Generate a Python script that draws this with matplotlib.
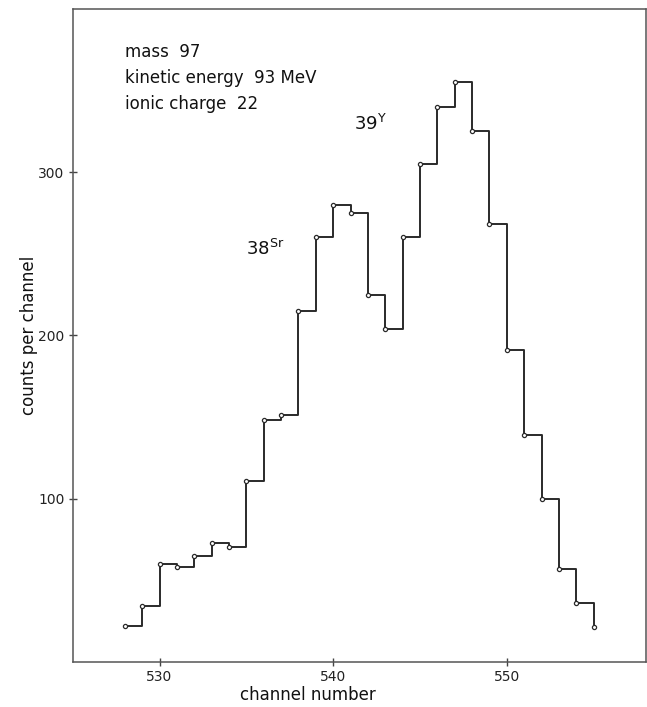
import matplotlib
matplotlib.use("Agg")
import matplotlib.pyplot as plt

# Channel numbers and counts per channel for the mass-97 spectrum
channels = [528, 529, 530, 531, 532, 533, 534, 535, 536, 537, 538, 539, 540, 541,
            542, 543, 544, 545, 546, 547, 548, 549, 550, 551, 552, 553, 554, 555]
counts = [22, 34, 60, 58, 65, 73, 70, 111, 148, 151, 215, 260, 280, 275,
          225, 204, 260, 305, 340, 355, 325, 268, 191, 139, 100, 57, 36, 21]

x_ticks = [530, 540, 550]
y_ticks = [100, 200, 300]

info_lines = ["mass  97", "kinetic energy  93 MeV", "ionic charge  22"]

plt.rcParams['font.family'] = ['DejaVu Sans']
plt.rcParams['mathtext.fontset'] = 'dejavusans'

fig = plt.figure(figsize=(6.47, 7.07), dpi=100)
ax = fig.add_axes([0.1124, 0.0641, 0.8856, 0.9232])

ink = '#2a2a2a'
ax.plot(channels, counts, drawstyle='steps-post', color=ink, lw=1.4)
ax.plot(channels, counts, ls='none', marker='o', ms=3.0, mfc='white',
        mec=ink, mew=0.9)

ax.set_xlim(525, 558)
ax.set_ylim(0, 400)
ax.set_xticks(x_ticks)
ax.set_yticks(y_ticks)
ax.tick_params(direction='inout', length=6, width=1, colors='#444444',
               labelsize=10, labelcolor='#222222', pad=3)

for s in ax.spines.values():
    s.set_color('#555555')
    s.set_linewidth(1.1)

ax.set_xlabel('channel number', fontsize=12, color='#111111')
ax.xaxis.set_label_coords(0.41, -0.037)
ax.set_ylabel('counts per channel', fontsize=12, color='#111111')
ax.yaxis.set_label_coords(-0.077, 0.5)
ax.yaxis.label.set_verticalalignment('center')

for i, line in enumerate(info_lines):
    ax.text(0.091, 0.948 - i * 0.04, line, transform=ax.transAxes,
            fontsize=12, color='#111111', va='top', ha='left')

ax.text(541.2, 326, r'39$^{\mathrm{Y}}$', fontsize=13, color='#111111')
ax.text(535.0, 249, r'38$^{\mathrm{Sr}}$', fontsize=13, color='#111111')

fig.savefig('out.png', dpi=100)
